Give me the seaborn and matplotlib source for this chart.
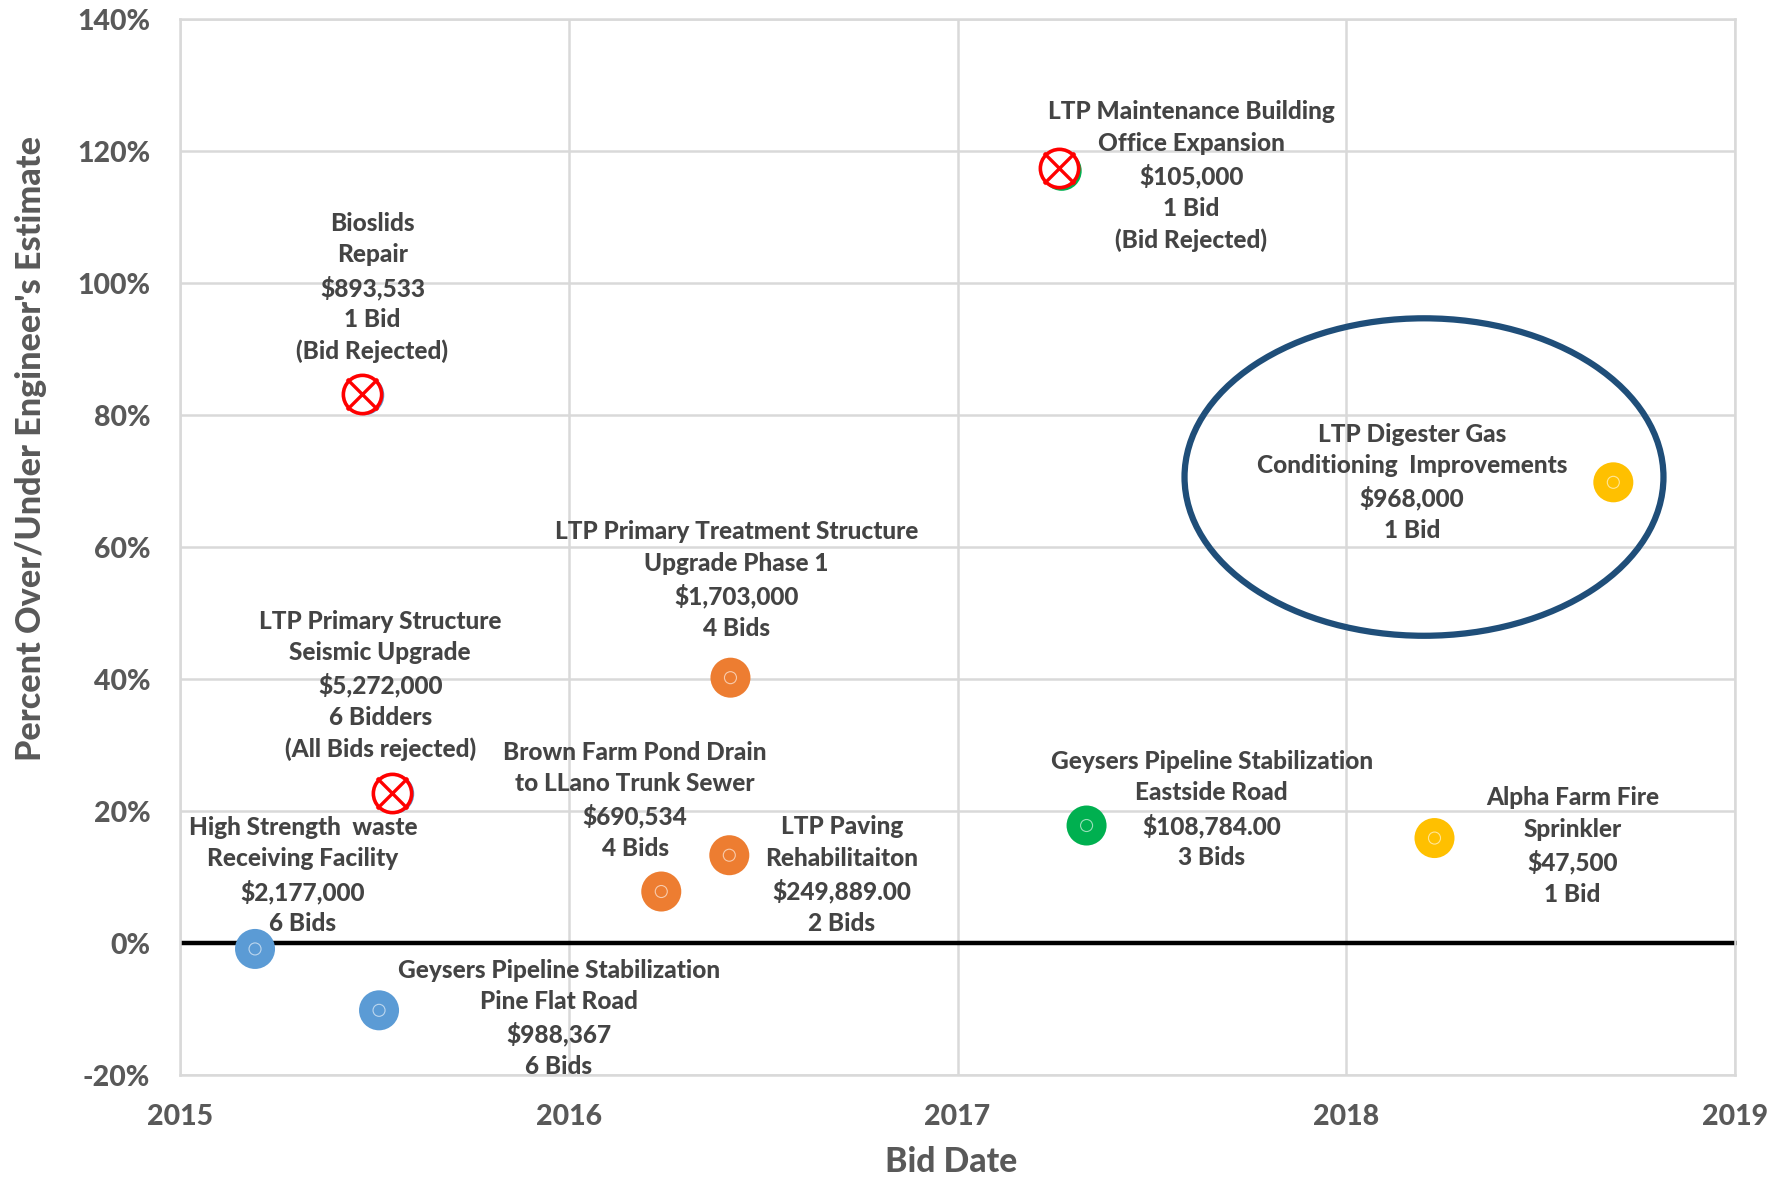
import matplotlib
matplotlib.use('Agg')
import matplotlib.pyplot as plt
from matplotlib.patches import Ellipse
import pandas as pd
import seaborn as sns

# Decimal bid dates and percent over/under estimate
projects = ['High Strength', 'Pine Flat', 'Bioslids', 'Seismic', 'Treatment', 'Brown Farm',
            'Paving', 'Maintenance', 'Eastside', 'Alpha Farm', 'Digester']
bid_date = [2015.193, 2015.512, 2015.474, 2015.551, 2016.416, 2016.238,
            2016.413, 2017.268, 2017.332, 2018.227, 2018.687]
percent = [-0.9, -10.2, 83.0, 22.6, 40.2, 7.8, 13.3, 117.0, 17.8, 15.9, 69.8]
year_group = ['2015', '2015', '2015', '2015', '2016', '2016', '2016', '2017', '2017', '2018', '2018']

# Rejected bids get a red crossed circle
rejected_date = [2015.468, 2015.545, 2017.262]
rejected_percent = [83.2, 22.7, 117.4]

labels = [
    'High Strength  waste\nReceiving Facility\n$2,177,000\n6 Bids',
    'Geysers Pipeline Stabilization\nPine Flat Road\n$988,367\n6 Bids',
    'Bioslids\nRepair\n$893,533\n1 Bid\n(Bid Rejected)',
    'LTP Primary Structure\nSeismic Upgrade\n$5,272,000\n6 Bidders\n(All Bids rejected)',
    'LTP Primary Treatment Structure\nUpgrade Phase 1\n$1,703,000\n4 Bids',
    'Brown Farm Pond Drain\nto LLano Trunk Sewer\n$690,534\n4 Bids',
    'LTP Paving\nRehabilitaiton\n$249,889.00\n2 Bids',
    'LTP Maintenance Building\nOffice Expansion\n$105,000\n1 Bid\n(Bid Rejected)',
    'Geysers Pipeline Stabilization\nEastside Road\n$108,784.00\n3 Bids',
    'Alpha Farm Fire\nSprinkler\n$47,500\n1 Bid',
    'LTP Digester Gas\nConditioning  Improvements\n$968,000\n1 Bid',
]
label_x = [2015.316, 2015.974, 2015.495, 2015.515, 2016.431, 2016.171,
           2016.703, 2017.601, 2017.654, 2018.582, 2018.169]
label_y = [10.2, -11.4, 99.3, 39.0, 55.0, 21.6, 10.3, 116.2, 20.2, 14.7, 69.8]

colors = {'2015': '#5b9bd5', '2016': '#ed7d31', '2017': '#00b050', '2018': '#ffc000'}
dark = '#444444'

plt.rcParams['font.family'] = ['Lato', 'DejaVu Sans']

df = pd.DataFrame({'project': projects, 'date': bid_date, 'percent': percent, 'year': year_group})

fig = plt.figure(figsize=(17.84, 11.77), dpi=100)
ax = fig.add_axes([180 / 1784, 102 / 1177, 1555 / 1784, 1056 / 1177])

sns.scatterplot(data=df, x='date', y='percent', hue='year', palette=colors, s=830,
                linewidth=0, legend=False, zorder=3, ax=ax)
# little pale ring in the middle of each dot
sns.scatterplot(data=df, x='date', y='percent', s=75, color='none', edgecolor='#ffffff',
                alpha=0.6, linewidth=0.8, legend=False, zorder=4, ax=ax)

ax.scatter(rejected_date, rejected_percent, s=760, facecolor='white', edgecolor='#ff0000',
           linewidth=2.6, zorder=5, clip_on=False)
ax.scatter(rejected_date, rejected_percent, s=500, marker='x', color='#ff0000',
           linewidth=2.4, zorder=6)

for text, tx, ty in zip(labels, label_x, label_y):
    ax.text(tx, ty, text, ha='center', va='center', fontsize=17.6, color=dark,
            fontweight=900, linespacing=1.44, zorder=7, clip_on=False)

ax.add_patch(Ellipse((2018.2, 70.6), 1.232, 48.1, fill=False, edgecolor='#1f4e79',
                     linewidth=4.5, zorder=6))
ax.plot([2015, 2019.005], [0, 0], color='black', linewidth=3.2, zorder=2, clip_on=False,
        solid_capstyle='butt')

ax.set_xlim(2015, 2019)
ax.set_ylim(-20, 140)
ax.set_xticks([2015, 2016, 2017, 2018, 2019])
ax.set_xticklabels(['2015', '2016', '2017', '2018', '2019'])
ax.set_yticks(range(-20, 141, 20))
ax.set_yticklabels([f'{v}%' for v in range(-20, 141, 20)])
ax.grid(True, color='#d9d9d9', linewidth=1.8, zorder=0)
ax.set_axisbelow(True)
for s in ax.spines.values():
    s.set_color('#d9d9d9')
    s.set_linewidth(1.8)
ax.tick_params(length=0, labelsize=20.5, labelcolor='#595959')
ax.tick_params(axis='x', pad=21)
ax.tick_params(axis='y', pad=21.5)
for tick in ax.get_xticklabels() + ax.get_yticklabels():
    tick.set_fontweight(900)

ax.set_xlabel('Bid Date', fontsize=24.3, color='#595959', fontweight=900, va='center')
ax.set_ylabel("Percent Over/Under Engineer's Estimate", fontsize=24.6, color='#595959',
              fontweight=900, va='center')
ax.xaxis.set_label_coords(0.496, -0.082)
ax.yaxis.set_label_coords(-0.096, 0.593)

fig.savefig('out.png', dpi=100)
